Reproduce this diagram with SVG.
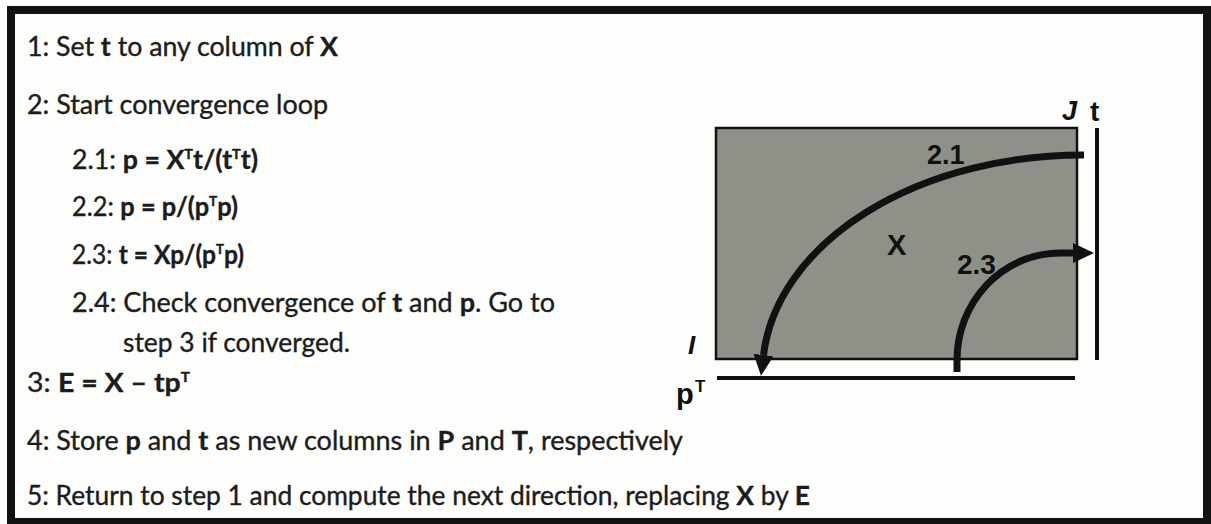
<svg xmlns="http://www.w3.org/2000/svg" width="1211" height="524" viewBox="0 0 1211 524">
<defs>
<style>
.t{font-family:Lato,"Open Sans","Liberation Sans",sans-serif;font-size:26px;fill:#1c1c1c;stroke:#1c1c1c;stroke-width:0.35}
.b{font-weight:bold}
.s{font-weight:bold;font-size:14px}
.lab{font-family:"Liberation Sans",Arial,sans-serif;font-weight:bold;fill:#111}
.arc{fill:none;stroke:#111;stroke-width:7}
</style>
<marker id="ah" markerUnits="userSpaceOnUse" markerWidth="21" markerHeight="20" refX="0" refY="10" orient="auto">
<path d="M0,0 L21,10 L0,20 Z" fill="#111"/>
</marker>
</defs>
<rect x="0" y="0" width="1211" height="524" fill="#fdfdfb"/>
<g id="frame">
<rect x="11" y="10" width="1196" height="512" fill="none" stroke="#111" stroke-width="8"/>
</g>
<g id="steps">
<text class="t" x="27" y="56" textLength="311" lengthAdjust="spacingAndGlyphs">1: Set <tspan class="b">t</tspan> to any column of <tspan class="b">X</tspan></text>
<text class="t" x="27" y="114" textLength="301" lengthAdjust="spacingAndGlyphs">2: Start convergence loop</text>
<text class="t" x="72" y="169" textLength="186" lengthAdjust="spacingAndGlyphs">2.1: <tspan class="b">p = X</tspan><tspan class="s" dy="-10">T</tspan><tspan class="b" dy="10">t/(t</tspan><tspan class="s" dy="-10">T</tspan><tspan class="b" dy="10">t)</tspan></text>
<text class="t" x="72" y="216" textLength="166" lengthAdjust="spacingAndGlyphs">2.2: <tspan class="b">p = p/(p</tspan><tspan class="s" dy="-10">T</tspan><tspan class="b" dy="10">p)</tspan></text>
<text class="t" x="72" y="264" textLength="172" lengthAdjust="spacingAndGlyphs">2.3: <tspan class="b">t = Xp/(p</tspan><tspan class="s" dy="-10">T</tspan><tspan class="b" dy="10">p)</tspan></text>
<text class="t" x="72" y="312" textLength="483" lengthAdjust="spacingAndGlyphs">2.4: Check convergence of <tspan class="b">t</tspan> and <tspan class="b">p</tspan>. Go to</text>
<text class="t" x="123" y="352" textLength="227" lengthAdjust="spacingAndGlyphs">step 3 if converged.</text>
<text class="t" x="27" y="392" textLength="163" lengthAdjust="spacingAndGlyphs">3: <tspan class="b">E = X – tp</tspan><tspan class="s" dy="-10">T</tspan></text>
<text class="t" x="27" y="450" textLength="656" lengthAdjust="spacingAndGlyphs">4: Store <tspan class="b">p</tspan> and <tspan class="b">t</tspan> as new columns in <tspan class="b">P</tspan> and <tspan class="b">T</tspan>, respectively</text>
<text class="t" x="27" y="505" textLength="783" lengthAdjust="spacingAndGlyphs">5: Return to step 1 and compute the next direction, replacing <tspan class="b">X</tspan> by <tspan class="b">E</tspan></text>
</g>
<g id="matrix-X">
<rect x="716" y="128" width="361" height="231" fill="#8e9188" stroke="#111" stroke-width="2.5"/>
<text class="lab" x="887" y="255" font-size="29">X</text>
</g>
<g id="vector-t">
<line x1="1097" y1="128" x2="1097" y2="360" stroke="#111" stroke-width="4"/>
<text class="lab" x="1090" y="121" font-size="28">t</text>
<text class="lab" x="1062" y="120" font-size="27" font-style="italic">J</text>
</g>
<g id="vector-pT">
<line x1="717" y1="378" x2="1075" y2="378" stroke="#111" stroke-width="4"/>
<text class="lab" x="676" y="404" font-size="29">p</text>
<text class="lab" x="695" y="392" font-size="17">T</text>
<text class="lab" x="688" y="354" font-size="26" font-style="italic">I</text>
</g>
<g id="connectors">
<path class="arc" d="M1084,155 A320,218 0 0 0 763.5,355" marker-end="url(#ah)"/>
<path class="arc" d="M957,372 L957,360 A103,107 0 0 1 1060,253 L1073,253" marker-end="url(#ah)"/>
<text class="lab" x="927" y="164" font-size="27">2.1</text>
<text class="lab" x="957" y="274" font-size="28">2.3</text>
</g>
</svg>
